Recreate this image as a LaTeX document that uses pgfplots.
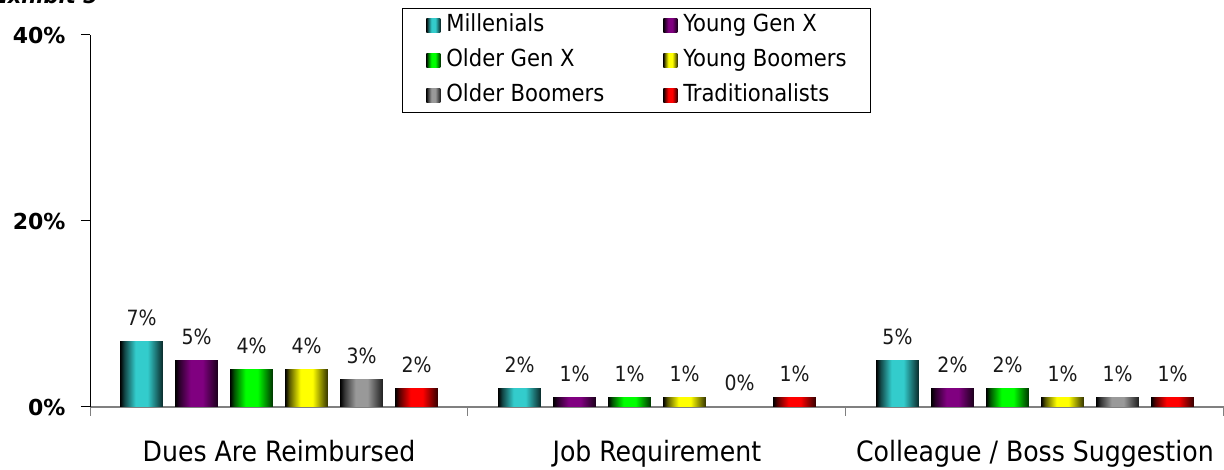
\documentclass[border=0pt]{standalone}
\usepackage{pgfplots}
\usepackage{pgfplotstable}
\pgfplotsset{compat=1.18}
\usepackage{fontspec}
\setmainfont{DejaVu Sans Condensed}
\newfontfamily\widefont{DejaVu Sans}
\definecolor{cMil}{HTML}{33CCCC}
\definecolor{cYGX}{HTML}{800080}
\definecolor{cOGX}{HTML}{00FF00}
\definecolor{cYB}{HTML}{FFFF00}
\definecolor{cOB}{HTML}{999999}
\definecolor{cTr}{HTML}{FF0000}
\newcommand\barshade[2]{\pgfdeclarehorizontalshading{#1}{100bp}{color(0bp)=(black); color(25bp)=(black); color(30bp)=(#2!35!black); color(43bp)=(#2); color(57bp)=(#2); color(75bp)=(#2!20!black); color(100bp)=(#2!20!black)}}
\barshade{sMil}{cMil}
\barshade{sYGX}{cYGX}
\barshade{sOGX}{cOGX}
\barshade{sYB}{cYB}
\barshade{sOB}{cOB}
\barshade{sTr}{cTr}
% x: 0 = Dues Are Reimbursed, 1 = Job Requirement, 2 = Colleague / Boss Suggestion
\pgfplotstableread{
x y
0 7
1 2
2 5
}\dMil
\pgfplotstableread{
x y
0 5
1 1
2 2
}\dYGX
\pgfplotstableread{
x y
0 4
1 1
2 2
}\dOGX
\pgfplotstableread{
x y
0 4
1 1
2 1
}\dYB
\pgfplotstableread{
x y
0 3
1 0
2 1
}\dOB
\pgfplotstableread{
x y
0 2
1 1
2 1
}\dTr
\newcommand\series[3]{%
\addplot[draw=none, shade, shading=#2, bar shift=#3, restrict x to domain=-0.2:0.2] table[x=x,y=y] {#1};
\addplot[draw=none, shade, shading=#2, bar shift=#3, restrict x to domain=0.8:1.2, forget plot] table[x=x,y=y] {#1};
\addplot[draw=none, shade, shading=#2, bar shift=#3, restrict x to domain=1.8:2.2, forget plot] table[x=x,y=y] {#1};
}
\begin{document}
\begin{tikzpicture}
\useasboundingbox (0,0) rectangle (1224pt,470pt);
\node[anchor=base east, inner sep=0pt, font=\widefont\fontsize{21}{21}\selectfont\bfseries\itshape] at (98pt,466pt) {Exhibit 5};
\begin{axis}[
  at={(90pt,63pt)}, anchor=south west,
  scale only axis, width=1134pt, height=372pt,
  xmin=-0.5, xmax=2.5, ymin=0, ymax=40,
  axis x line=bottom, axis y line=left,
  axis line style={-},
  x axis line style={draw=gray, line width=1.2pt},
  y axis line style={draw=black, line width=1pt},
  ybar, bar width=42.7pt,
  xtick={-0.5,0.5,1.5,2.5}, xticklabels={,,,},
  extra x ticks={0,1,2},
  extra x tick labels={Dues Are Reimbursed,Job Requirement,Colleague / Boss Suggestion},
  extra x tick style={major tick length=0pt},
  xticklabel style={font=\fontsize{28}{28}\selectfont, anchor=base, yshift=-55pt},
  ytick={0,20,40},
  yticklabels={\textbf{0\%},\textbf{20\%},\textbf{40\%}},
  yticklabel style={font=\widefont\fontsize{22}{22}\selectfont, anchor=east, xshift=-12pt},
  tick align=outside, major tick length=9pt,
  xtick style={draw=gray, line width=1pt},
  ytick style={draw=black, line width=1pt},
  /pgf/number format/assume math mode=true,
  nodes near coords={\pgfmathprintnumber{\pgfplotspointmeta}\%},
  every node near coord/.append style={font=\fontsize{21}{21}\selectfont, inner sep=0pt, yshift=15.5pt, text=black!90},
  legend style={at={(0.2751,1.0726)}, anchor=north west, draw=black, line width=0.8pt,
    font=\fontsize{23.5}{23.5}\selectfont, inner xsep=24pt, inner ysep=7pt,
    column sep=6pt, row sep=15pt,
    /tikz/every even column/.append style={column sep=0pt},
    nodes={inner sep=0pt, text height=16pt, text depth=4pt}},
  legend columns=2, legend cell align=left,
  legend image code/.code={\path[#1, draw=none] (0pt,-7pt) rectangle (14pt,7pt);},
]
\series{\dMil}{sMil}{-137.5pt}
\series{\dYGX}{sYGX}{-82.5pt}
\series{\dOGX}{sOGX}{-27.5pt}
\series{\dYB}{sYB}{27.5pt}
\series{\dOB}{sOB}{82.5pt}
\series{\dTr}{sTr}{137.5pt}
\legend{\makebox[217pt][l]{Millenials},Young Gen X,\makebox[217pt][l]{Older Gen X},Young Boomers,\makebox[217pt][l]{Older Boomers},Traditionalists}
\end{axis}
\end{tikzpicture}
\end{document}
